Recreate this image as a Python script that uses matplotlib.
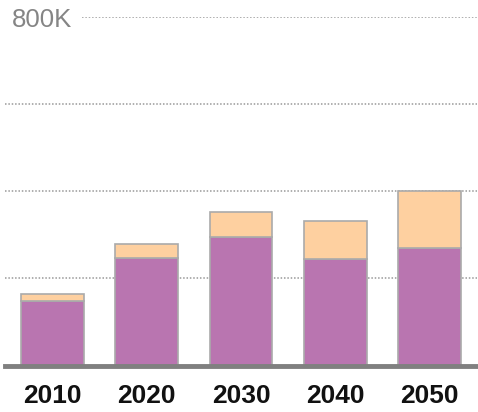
import matplotlib.pyplot as plt
import numpy as np

years = ["2010", "2020", "2030", "2040", "2050"]
lower = [148000, 246000, 295000, 244000, 269000]
upper = [17000, 33000, 58000, 87000, 131000]
grid_values = [200000, 400000, 600000, 800000]

W, H = 478, 412
fig = plt.figure(figsize=(W / 100, H / 100), dpi=100)
# axes placed in pixel terms: x 5..477, y 0 at 365.5, 800K at 17.2
y0, y800 = 365.5, 17.2
ax = fig.add_axes([5 / W, (H - y0) / H, 472 / W, (y0 - y800) / H])

x = np.arange(len(years))
purple = "#b975b0"
peach = "#fed0a0"
edge = "#aaaaaa"

ax.bar(x, lower, width=0.667, color=purple, edgecolor=edge, linewidth=1.2, zorder=2)
ax.bar(x, upper, bottom=lower, width=0.667, color=peach, edgecolor=edge, linewidth=1.2, zorder=2)

# dotted gridlines
for v in grid_values:
    xmin = 77 / 472 if v == 800000 else 0
    ax.axhline(v, xmin=xmin, xmax=1, color="#999999", linestyle=(0, (1, 1.2)), linewidth=1.1, zorder=1)

ax.axhline(0, color="#808080", linewidth=3.5, zorder=3, clip_on=False)

ax.set_xlim(-0.5, len(years) - 0.5)
ax.set_ylim(0, 800000)
ax.axis("off")

ax.text(-0.5 + 7 / 94.4, 793000, "800K", fontsize=18.5, color="#858585",
        family="Liberation Sans", va="center", ha="left")

for i, yr in enumerate(years):
    fig.text((5 + (i + 0.5) * 94.4) / W, 1 - 396 / H, yr, fontsize=19, fontweight="bold",
             family="Liberation Sans", ha="center", va="center", color="#111111")

fig.savefig("out.png", dpi=100, facecolor="white")
